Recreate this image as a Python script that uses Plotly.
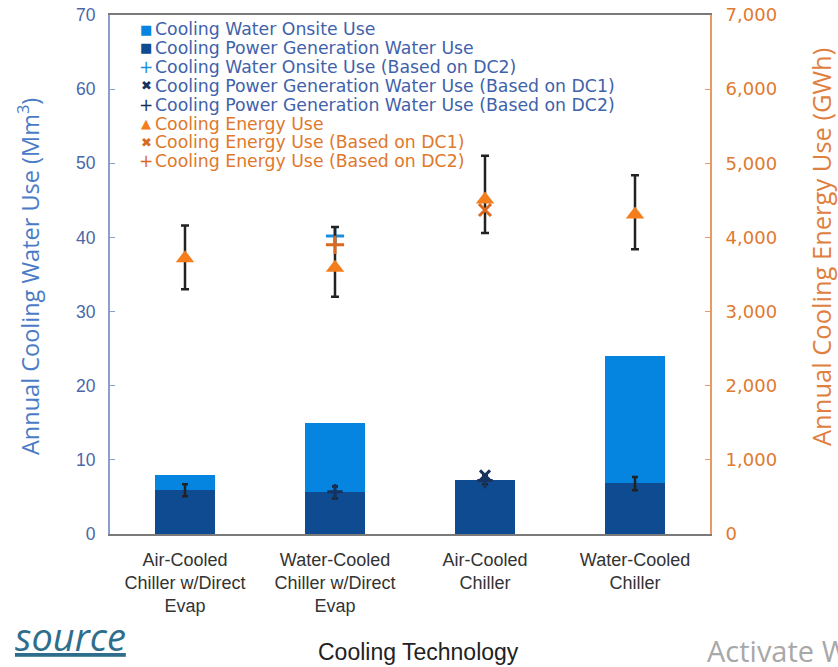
import plotly.graph_objects as go

categories = ["Air-Cooled<br>Chiller w/Direct<br>Evap", "Water-Cooled<br>Chiller w/Direct<br>Evap",
              "Air-Cooled<br>Chiller", "Water-Cooled<br>Chiller"]

# Water use (Mm3), left axis
onsite_water = [2.0, 9.4, 0.0, 17.1]          # light blue segment (stacked on top)
powergen_water = [5.9, 5.6, 7.3, 6.9]         # dark blue segment (bottom)
powergen_err_plus = [0.8, 0.8, 0.7, 0.8]
powergen_err_minus = [0.8, 0.8, 0.6, 1.0]
onsite_water_dc2 = [None, 40.2, None, None]
powergen_water_dc1 = [None, None, 7.9, None]
powergen_water_dc2 = [None, 5.7, 7.2, None]

# Energy use (GWh), right axis
energy = [3720, 3590, 4510, 4310]
energy_err_plus = [440, 550, 590, 530]
energy_err_minus = [420, 390, 450, 470]
energy_dc1 = [None, None, 4370, None]
energy_dc2 = [None, 3900, None, None]

# Legend entries
legend_labels = ["Cooling Water Onsite Use", "Cooling Power Generation Water Use",
                 "Cooling Water Onsite Use (Based on DC2)",
                 "Cooling Power Generation Water Use (Based on DC1)",
                 "Cooling Power Generation Water Use (Based on DC2)",
                 "Cooling Energy Use", "Cooling Energy Use (Based on DC1)",
                 "Cooling Energy Use (Based on DC2)"]

BLUE_TXT = "#3f62aa"
ORANGE_TXT = "#e0782c"
LIGHT = "#0585e0"
DARK = "#0f4b91"
NAVY = "#16325e"
ORANGE = "#f47d1c"
ORANGE_D = "#d9691f"
ERR = "#222222"

legend_glyphs = [("■", LIGHT), ("■", DARK), ("+", "#1a8fe0"), ("✖", NAVY), ("+", NAVY),
                 ("▲", ORANGE), ("✖", ORANGE_D), ("+", ORANGE_D)]
legend_text_colors = [BLUE_TXT] * 5 + [ORANGE_TXT] * 3

BAR_W = 0.4

fig = go.Figure()

fig.add_trace(go.Bar(
    x=categories, y=powergen_water, name="Cooling Power Generation Water Use",
    marker=dict(color=DARK, line=dict(width=0)), width=BAR_W, showlegend=False,
))
fig.add_trace(go.Bar(
    x=categories, y=onsite_water, name="Cooling Water Onsite Use",
    marker=dict(color=LIGHT, line=dict(width=0)), width=BAR_W, showlegend=False,
))
# error bars of power generation water use, drawn above the stacked bars
fig.add_trace(go.Scatter(
    x=categories, y=powergen_water, mode="markers", showlegend=False,
    marker=dict(size=1, color="rgba(0,0,0,0)"),
    error_y=dict(type="data", array=powergen_err_plus, arrayminus=powergen_err_minus,
                 color=ERR, thickness=2.5, width=3),
))
fig.add_trace(go.Scatter(
    x=categories, y=onsite_water_dc2, mode="markers", showlegend=False,
    name="Cooling Water Onsite Use (Based on DC2)",
    marker=dict(symbol="cross-thin-open", size=13, color="#1a8fe0", line=dict(color="#1a8fe0", width=3)),
))
fig.add_trace(go.Scatter(
    x=categories, y=powergen_water_dc1, mode="markers", showlegend=False,
    name="Cooling Power Generation Water Use (Based on DC1)",
    marker=dict(symbol="x-thin-open", size=10, color=NAVY, line=dict(color=NAVY, width=3)),
))
fig.add_trace(go.Scatter(
    x=categories, y=powergen_water_dc2, mode="markers", showlegend=False,
    name="Cooling Power Generation Water Use (Based on DC2)",
    marker=dict(symbol="cross-thin-open", size=11, color=NAVY, line=dict(color=NAVY, width=3)),
))
fig.add_trace(go.Scatter(
    x=categories, y=energy, mode="markers", yaxis="y2", showlegend=False,
    name="Cooling Energy Use",
    marker=dict(symbol="triangle-up", size=16, color=ORANGE),
    error_y=dict(type="data", array=energy_err_plus, arrayminus=energy_err_minus,
                 color=ERR, thickness=2.5, width=4),
))
fig.add_trace(go.Scatter(
    x=categories, y=energy_dc1, mode="markers", yaxis="y2", showlegend=False,
    name="Cooling Energy Use (Based on DC1)",
    marker=dict(symbol="x-thin-open", size=12, color=ORANGE_D, line=dict(color=ORANGE_D, width=3)),
))
fig.add_trace(go.Scatter(
    x=categories, y=energy_dc2, mode="markers", yaxis="y2", showlegend=False,
    name="Cooling Energy Use (Based on DC2)",
    marker=dict(symbol="cross-thin-open", size=13, color=ORANGE_D, line=dict(color=ORANGE_D, width=3)),
))

# plot area: x 110..710 px, y 15..534 px
PX0, PX1, PY0, PY1 = 110, 710, 15, 534
def px(x):
    return (x - PX0) / (PX1 - PX0)
def py(y):
    return (PY1 - y) / (PY1 - PY0)

annotations = []
for i, (lab, (g, gc), tc) in enumerate(zip(legend_labels, legend_glyphs, legend_text_colors)):
    yc = 29 + i * 18.9
    annotations.append(dict(text=g, xref="paper", yref="paper", x=px(146), y=py(yc),
                            xanchor="center", yanchor="middle", showarrow=False, borderpad=0,
                            font=dict(family="DejaVu Sans", size=13 if g != "+" else 17, color=gc)))
    annotations.append(dict(text=lab, xref="paper", yref="paper", x=px(154), y=py(yc),
                            xanchor="left", yanchor="middle", showarrow=False, borderpad=0,
                            font=dict(family="DejaVu Sans", size=17.3, color=tc)))

annotations += [
    dict(text="Annual Cooling Water Use (Mm<sup>3</sup>)", xref="paper", yref="paper",
         x=px(29), y=py(277), xanchor="center", yanchor="middle", textangle=-90, showarrow=False,
         font=dict(family="Open Sans, sans-serif", size=23.5, color="#4a7cc6")),
    dict(text="Annual Cooling Energy Use (GWh)", xref="paper", yref="paper",
         x=px(821), y=py(247), xanchor="center", yanchor="middle", textangle=-90, showarrow=False,
         font=dict(family="Open Sans, sans-serif", size=25.5, color="#e08040")),
    dict(text="Cooling Technology", xref="paper", yref="paper",
         x=px(418), y=py(652), xanchor="center", yanchor="middle", showarrow=False,
         font=dict(family="Liberation Sans, Arial, sans-serif", size=23, color="#222222")),
    dict(text="<u>source</u>", xref="paper", yref="paper",
         x=px(13), y=py(636), xanchor="left", yanchor="middle", showarrow=False,
         font=dict(family="Open Sans, sans-serif", size=38, color="#2e6e8c", style="italic")),
    dict(text="Activate W", xref="paper", yref="paper",
         x=px(705), y=py(650), xanchor="left", yanchor="middle", showarrow=False,
         font=dict(family="Open Sans, sans-serif", size=29, color="#a8a8a8")),
]

fig.update_layout(
    width=838, height=667, autosize=False,
    margin=dict(l=PX0, r=838 - PX1, t=PY0, b=667 - PY1, pad=0, autoexpand=False),
    paper_bgcolor="white", plot_bgcolor="white",
    barmode="stack",
    font=dict(family="Liberation Sans, Arial, sans-serif", size=16, color="#333333"),
    showlegend=False,
    xaxis=dict(range=[-0.5, 3.5], showline=True, linecolor="#7a7a7a", linewidth=2,
               mirror=True, ticks="", showgrid=False, automargin=False, ticklabelstandoff=8,
               tickfont=dict(size=18, color="#333333", family="Liberation Sans, Arial")),
    yaxis=dict(range=[0, 70], dtick=10, showline=True, linecolor="#8a9fcc", linewidth=2,
               ticks="inside", ticklen=5, tickcolor="#8a9fcc", showgrid=False, zeroline=False,
               ticklabelstandoff=9, automargin=False,
               tickfont=dict(size=17.5, color="#4a67a8", family="Liberation Sans, Arial")),
    yaxis2=dict(range=[0, 7000], dtick=1000, overlaying="y", side="right", showline=True,
                linecolor="#e89a66", linewidth=2, ticks="inside", ticklen=5, tickcolor="#e89a66",
                showgrid=False, zeroline=False, tickformat=",d", ticklabelstandoff=10,
                automargin=False,
                tickfont=dict(size=18, color="#df7a30", family="DejaVu Sans")),
    annotations=annotations,
)

fig.write_html("out.html", config={"displayModeBar": False},
               post_script="document.body.style.margin='0';")
